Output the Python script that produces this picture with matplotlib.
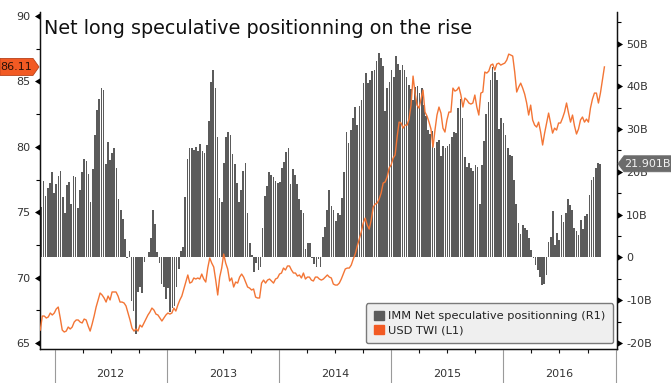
import matplotlib
matplotlib.use("Agg")
import matplotlib.pyplot as plt
import matplotlib.dates as mdates
from matplotlib.patches import Polygon, Patch
from matplotlib.ticker import FixedLocator, MultipleLocator, FuncFormatter, NullFormatter
from matplotlib.transforms import IdentityTransform
import pandas as pd

plt.rcParams['font.family'] = ['DejaVu Sans']

# IMM net speculative positioning, USD bn, weekly (right axis)
imm_net = [
    11.7, 17.9, 14.4, 16.3, 17.3, 19.9, 15.0, 17.1, 19.1, 20.2,
    14.2, 10.5, 16.9, 17.6, 12.5, 19.1, 18.9, 11.6, 15.8, 20.0,
    22.9, 22.5, 19.4, 13.0, 20.6, 28.6, 34.4, 37.1, 39.7, 39.1,
    21.8, 27.0, 22.7, 24.5, 25.6, 20.8, 13.6, 11.2, 8.9, 4.4,
    -0.2, 1.5, -10.1, -12.5, -17.9, -8.0, -6.9, -8.2, -1.0, 0.2,
    1.2, 4.6, 11.1, 7.8, 1.3, -1.2, -6.2, -6.9, -9.6, -7.2,
    -12.7, -11.9, -11.4, -6.9, -2.8, 1.5, 2.5, 14.2, 22.9,
    25.5, 25.7, 25.1, 25.9, 24.9, 26.6, 24.9, 24.3, 26.2,
    31.9, 41.0, 43.9, 39.5, 28.2, 14.0, 13.0, 22.1, 28.2, 29.3,
    28.6, 24.1, 21.8, 17.4, 13.0, 15.7, 20.2, 22.0, 10.4,
    3.5, 0.5, -3.3, -1.2, -3.0, -2.2, 6.9, 14.3, 16.7, 19.9,
    19.2, 18.7, 17.9, 17.4, 17.7, 20.8, 22.4, 24.7, 25.7,
    17.1, 20.6, 19.2, 17.1, 13.6, 11.2, 10.4, 1.9, 3.3,
    3.3, -0.2, -1.6, -2.2, -0.3, -2.3, 4.7, 7.2, 11.2,
    15.7, 12.1,
    11.1, 8.5, 10.3, 9.9, 13.8, 20.0, 29.4, 26.8, 29.9, 32.7,
    35.2, 30.9, 35.4, 36.8, 40.7, 43.1, 40.7, 41.4,
    43.6, 43.9, 45.9, 47.7, 46.7, 44.7, 34.3, 39.5, 41.0, 43.9,
    42.2, 47.0, 45.2, 43.8, 44.9, 43.8, 42.1, 40.3, 39.3,
    36.9, 39.9, 40.0, 38.5, 39.5, 35.6, 33.0, 29.8, 28.8, 29.6,
    25.5, 27.0, 27.4, 23.8, 26.0, 25.5, 26.0, 26.6, 28.2,
    29.4, 29.1, 35.0, 37.1, 32.7, 23.5, 21.2, 22.0, 20.8, 20.2,
    21.6, 21.2,
    12.6, 21.6, 27.2, 33.5, 36.4, 41.4, 44.5, 43.4, 41.4, 30.1,
    32.7, 31.5, 28.7, 25.5, 23.9, 23.7, 18.1, 12.5, 8.0,
    5.6, 7.6, 6.8, 6.4, 4.5, 1.7, -0.2, -1.8, -3.0,
    -4.5, -6.5, -6.1, -4.1, 3.7, 4.7, 10.8, 2.9, 5.8,
    4.0, 9.9, 8.3, 10.3, 13.6, 12.2, 11.1, 6.8, 6.2, 5.2,
    8.7, 6.6, 9.7, 10.1, 14.6, 18.1, 18.8, 20.8, 22.1,
    21.901,
]

# USD trade weighted index (left axis)
usd_twi = [
    65.99, 67.06, 67.06, 66.91, 66.99, 67.29, 67.14, 67.29, 67.60, 67.75,
    66.91, 65.99, 65.84, 65.91, 66.22, 66.07, 66.22, 66.60, 66.76, 66.76,
    66.60, 66.53, 66.83, 66.76, 66.30, 65.91, 66.45, 67.06, 67.75, 68.29,
    68.82, 68.67, 68.44, 68.13, 68.59, 68.29, 68.90, 68.90, 68.90, 68.59,
    68.13, 68.13, 68.06, 67.83, 67.29, 66.76, 66.14, 65.91, 66.07, 65.91,
    66.37, 66.22, 66.53, 66.83, 67.14, 67.37, 67.67, 67.52, 67.21, 67.14,
    66.91, 66.68, 66.91, 67.14, 67.29, 67.21, 67.29, 67.67, 67.44, 67.90,
    68.29, 68.59, 69.13, 69.66,
    70.20, 69.58, 69.66, 69.97, 69.89, 69.97, 69.89, 70.27, 69.89, 69.66,
    70.73, 71.50, 71.11, 70.81, 69.81, 68.67, 70.04, 70.73, 71.80, 71.11,
    70.66, 69.74, 69.97, 69.28, 69.66, 69.58, 70.04, 70.27, 70.04, 69.66,
    69.28, 69.20, 69.05, 69.13, 68.51, 68.44, 68.44, 69.58, 69.81, 69.58,
    69.81, 69.89, 69.74, 69.58, 69.89, 69.97, 70.27, 70.35, 70.73, 70.58,
    70.89, 70.89, 70.58, 70.35, 70.35, 70.12, 70.20, 69.97, 70.35, 69.89,
    70.04, 70.04, 69.81, 69.74, 70.04, 70.04, 69.89, 69.81, 69.89, 70.04,
    70.20, 70.04,
    69.97, 69.51, 69.43, 69.43, 69.58, 69.89, 70.27, 70.66, 70.73, 70.73,
    70.96, 71.42, 71.80, 72.41, 72.95, 73.48, 74.17, 74.55,
    74.02, 73.71, 74.40, 75.39, 75.62, 75.70, 76.01, 76.47, 77.23, 77.31,
    77.69, 78.38, 78.61, 79.14, 79.37, 80.75, 81.89, 81.82, 81.43, 81.66,
    81.66, 82.12, 83.19, 85.41, 84.11, 83.19, 82.96, 83.65, 84.34, 82.66,
    82.35, 81.89, 81.36, 79.98, 81.28, 82.43, 83.04, 82.58, 81.43, 81.13,
    82.05, 82.66, 82.66, 84.49, 84.26, 84.34, 84.57, 83.96, 83.04, 83.73,
    83.58, 83.35, 83.27, 83.35, 83.96, 83.04, 82.43,
    84.11, 84.19, 85.72, 85.64, 85.79, 86.25, 86.33, 85.87, 86.33, 86.40,
    86.25, 86.33, 86.40, 86.63, 87.09, 87.02, 86.94, 85.72, 84.19, 84.57,
    84.87, 84.49, 84.03, 83.35, 82.43, 83.19, 82.05, 81.66, 81.51, 81.89,
    81.13, 80.14, 81.05, 81.82, 82.58, 81.82, 81.05, 81.43, 81.28, 81.82,
    81.82, 82.20, 82.66, 83.35, 82.58, 81.89, 82.43, 81.59, 80.98, 81.36,
    82.05, 82.28, 81.89, 82.12, 81.89, 82.96, 83.65, 84.11, 84.11, 83.35,
    84.11, 85.10, 86.11,
]

imm_dates = pd.date_range("2011-11-18", periods=len(imm_net), freq="7D")
twi_dates = pd.date_range("2011-11-15", "2016-11-25", periods=len(usd_twi))
years = [2012, 2013, 2014, 2015, 2016]

title = "Net long speculative positionning on the rise"
imm_label = "IMM Net speculative positionning (R1)"
twi_label = "USD TWI (L1)"

bar_color = "#5b5b5b"
line_color = "#f37535"
tag_orange = "#f25a23"

W, H = 671, 383
fig = plt.figure(figsize=(W / 100, H / 100), dpi=100)
ax = fig.add_axes([40 / W, 34 / H, 577 / W, 337 / H])
axr = ax.twinx()

# bars on the right axis, line on the left one drawn above
axr.bar(imm_dates, imm_net, width=5.4, color=bar_color, linewidth=0, zorder=2)
ax.plot(twi_dates, usd_twi, color=line_color, lw=1.0, zorder=3)
ax.set_zorder(axr.get_zorder() + 1)
ax.patch.set_visible(False)

ax.set_xlim(pd.Timestamp("2011-11-14"), pd.Timestamp("2017-01-05"))
ax.set_ylim(64.54, 90.31)
axr.set_ylim(-21.38, 57.36)

for a in (ax, axr):
    a.spines["top"].set_visible(False)
    for s in ("left", "right", "bottom"):
        a.spines[s].set_linewidth(0.9)
        a.spines[s].set_color("#111111")

# y ticks
ax.yaxis.set_major_locator(FixedLocator([65, 70, 75, 80, 85, 90]))
ax.yaxis.set_minor_locator(MultipleLocator(2.5))
ax.tick_params(axis="y", which="major", direction="out", length=4, width=0.6,
               pad=3, labelsize=8, labelcolor="#333333")
ax.tick_params(axis="y", which="minor", direction="out", length=3, width=0.8)

axr.yaxis.set_major_locator(FixedLocator(list(range(-20, 60, 10))))
axr.yaxis.set_minor_locator(MultipleLocator(5))
axr.yaxis.set_major_formatter(FuncFormatter(lambda v, p: "0" if v == 0 else "%dB" % v))
axr.tick_params(axis="y", which="major", direction="out", length=4, width=0.6,
                pad=2.5, labelsize=8, labelcolor="#333333")
axr.tick_params(axis="y", which="minor", direction="out", length=3, width=0.8)

# x ticks: long grey year separators, short quarter ticks
ax.xaxis.set_major_locator(mdates.YearLocator())
ax.xaxis.set_major_formatter(NullFormatter())
ax.xaxis.set_minor_locator(mdates.MonthLocator([4, 7, 10]))
ax.xaxis.set_minor_formatter(NullFormatter())
ax.tick_params(axis="x", which="major", direction="out", length=25, width=0.8,
               color="#9a9a9a")
ax.tick_params(axis="x", which="minor", direction="out", length=3, width=0.8,
               color="#111111")
for y in years:
    ax.text(pd.Timestamp(y, 7, 1), -0.074, str(y), transform=ax.get_xaxis_transform(),
            ha="center", va="center", fontsize=8, color="#333333")

# triangle major ticks, base on the spine, tip pointing outwards
left_tri = [(0, 0.6), (-1, 0), (0, -0.6), (0, 0.6)]
right_tri = [(0, 0.6), (1, 0), (0, -0.6), (0, 0.6)]
for t in ax.yaxis.get_major_ticks():
    t.tick1line.set_marker(left_tri)
    t.tick1line.set_markersize(8)
    t.tick1line.set_markerfacecolor("black")
    t.tick1line.set_markeredgewidth(0)
for t in axr.yaxis.get_major_ticks():
    t.tick2line.set_marker(right_tri)
    t.tick2line.set_markersize(8)
    t.tick2line.set_markerfacecolor("black")
    t.tick2line.set_markeredgewidth(0)

ax.text(0.007, 0.935, title, transform=ax.transAxes, fontsize=13.8,
        ha="left", va="baseline", color="#111111")

handles = [Patch(color=bar_color), Patch(color=tag_orange)]
leg = ax.legend(handles, [imm_label, twi_label], loc="lower right",
                bbox_to_anchor=(0.993, 0.018), borderaxespad=0, fontsize=8.2,
                frameon=True, fancybox=True, facecolor="#efefef", edgecolor="#7a7a7a",
                framealpha=1, handlelength=0.9, handleheight=0.9,
                handletextpad=0.4, labelspacing=0.3, borderpad=0.65)
leg.get_frame().set_linewidth(1.0)
for txt in leg.get_texts():
    txt.set_color("#222222")

# last value tags
ident = IdentityTransform()
x_left = ax.transAxes.transform((0, 0))[0]
x_right = ax.transAxes.transform((1, 0))[0]
y_l = ax.transData.transform((0, usd_twi[-1]))[1]
y_r = axr.transData.transform((0, imm_net[-1]))[1]
fig.add_artist(Polygon([(0, y_l - 8.5), (x_left - 7, y_l - 8.5), (x_left - 1, y_l),
                        (x_left - 7, y_l + 8.5), (0, y_l + 8.5)], closed=True,
                       facecolor=tag_orange, edgecolor="#b8421a", lw=0.6,
                       transform=ident, zorder=5))
fig.text((x_left - 7) / 2, y_l, "%.2f" % usd_twi[-1], transform=ident, ha="center",
         va="center", fontsize=8, color="#2b1208", zorder=6)
fig.add_artist(Polygon([(x_right + 1, y_r), (x_right + 7, y_r + 8), (W, y_r + 8),
                        (W, y_r - 8), (x_right + 7, y_r - 8)], closed=True,
                       facecolor="#6b6b6b", edgecolor="#6b6b6b", lw=0.6,
                       transform=ident, zorder=5))
fig.text((x_right + 7 + W) / 2, y_r, "%.3fB" % imm_net[-1], transform=ident,
         ha="center", va="center", fontsize=8, color="#f2f2f2", zorder=6)

fig.savefig("out.png", dpi=100)
